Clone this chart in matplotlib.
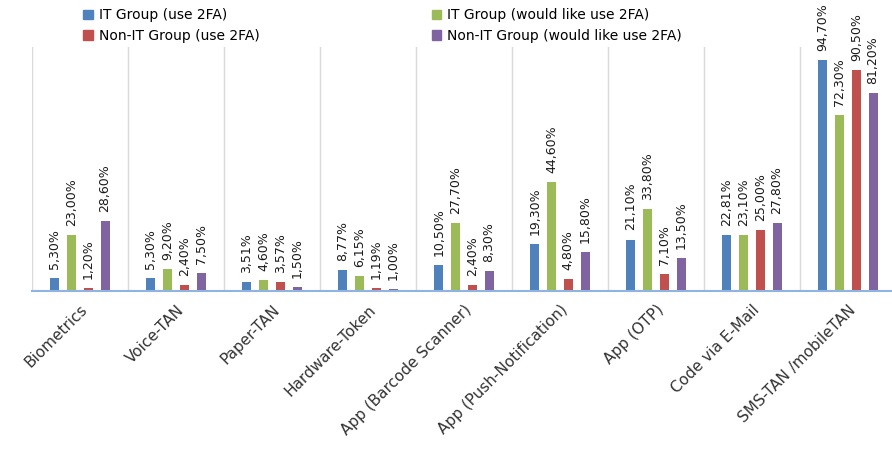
import matplotlib
matplotlib.use("Agg")
import matplotlib.pyplot as plt
import numpy as np
from matplotlib.patches import Patch

categories = ["Biometrics", "Voice-TAN", "Paper-TAN", "Hardware-Token",
              "App (Barcode Scanner)", "App (Push-Notification)", "App (OTP)",
              "Code via E-Mail", "SMS-TAN /mobileTAN"]
series_names = ["IT Group (use 2FA)", "IT Group (would like use 2FA)",
                "Non-IT Group (use 2FA)", "Non-IT Group (would like use 2FA)"]
it_use = [5.30, 5.30, 3.51, 8.77, 10.50, 19.30, 21.10, 22.81, 94.70]
it_would = [23.00, 9.20, 4.60, 6.15, 27.70, 44.60, 33.80, 23.10, 72.30]
nonit_use = [1.20, 2.40, 3.57, 1.19, 2.40, 4.80, 7.10, 25.00, 90.50]
nonit_would = [28.60, 7.50, 1.50, 1.00, 8.30, 15.80, 13.50, 27.80, 81.20]

colors = ["#4F81BD", "#9BBB59", "#C0504D", "#8064A2"]
series = [it_use, it_would, nonit_use, nonit_would]

fig = plt.figure(figsize=(8.92, 4.55), dpi=100)
ax = fig.add_axes([32 / 892, 1 - 291 / 455, 864 / 892, 244 / 455])

n = len(categories)
x = np.arange(n)
step = 0.174
width = 0.094
offsets = [-1.5 * step, -0.5 * step, 0.5 * step, 1.5 * step]

for vals, col, off in zip(series, colors, offsets):
    bars = ax.bar(x + off, vals, width=width, color=col, zorder=3)
    for b, v in zip(bars, vals):
        ax.annotate(f"{v:.2f}".replace(".", ",") + "%",
                    (b.get_x() + b.get_width() / 2, v),
                    xytext=(0, 6.5), textcoords="offset points",
                    rotation=90, ha="center", va="bottom",
                    fontsize=9, color="#1a1a1a", annotation_clip=False)

ax.set_xlim(-0.5, n - 0.5)
ax.set_ylim(0, 100)

# category separators
for b in np.arange(-0.5, n, 1.0):
    ax.axvline(b, color="#D9D9D9", lw=1, zorder=1)

for s in ["top", "right", "left"]:
    ax.spines[s].set_visible(False)
ax.spines["bottom"].set_color("#8EB4E3")
ax.spines["bottom"].set_linewidth(1.5)
ax.spines["bottom"].set_zorder(4)
ax.set_yticks([])
ax.set_xticks(x)
ax.set_xticklabels(categories, rotation=45, ha="right", rotation_mode="anchor",
                   fontsize=11, color="#333333")
ax.tick_params(axis="x", length=0, pad=8)

# legend filled column by column: "use" entries left, "would like" entries right
order = [0, 2, 1, 3]
handles = [Patch(color=colors[i]) for i in order]
labels = [series_names[i] for i in order]
fig.legend(handles, labels, loc="upper left", ncol=2,
           bbox_to_anchor=(75 / 892, 1.0), frameon=False, fontsize=10,
           handlelength=0.7, handleheight=0.7, handletextpad=0.4,
           columnspacing=12.4, labelspacing=0.45, borderaxespad=0.2)

fig.savefig("out.png", dpi=100)
